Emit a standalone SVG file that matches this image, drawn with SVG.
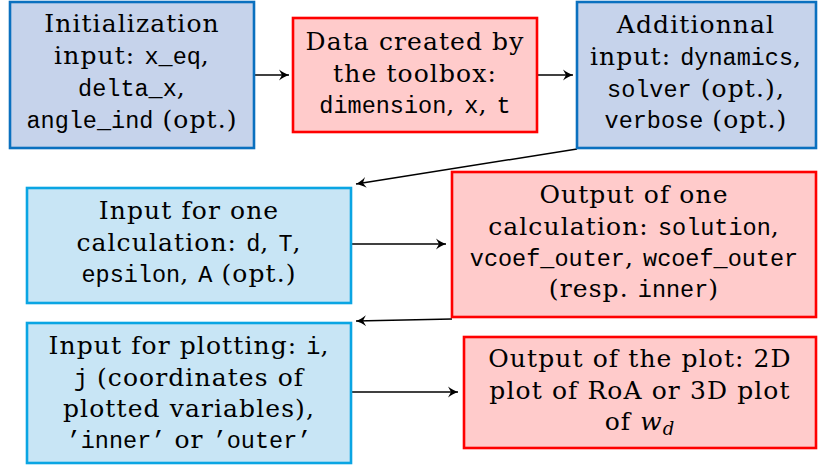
<svg xmlns="http://www.w3.org/2000/svg" width="818" height="466" viewBox="0 0 818 466">
<style>
.blue{fill:#c6d3eb;stroke:#0a70bf;stroke-width:2.6}
.cyan{fill:#c8e5f5;stroke:#0aa5e3;stroke-width:2.6}
.red{fill:#ffcbcb;stroke:#ff0000;stroke-width:2.6}
.t{font-family:"DejaVu Serif",serif;font-size:25px;letter-spacing:1.1px;text-anchor:middle;fill:#000}
.m{font-family:"Liberation Mono","DejaVu Sans Mono",monospace;font-size:23.5px;letter-spacing:0}
.c{fill:none;stroke:#000;stroke-width:1.5}
</style>
<defs>
<marker id="ah" markerUnits="userSpaceOnUse" markerWidth="14" markerHeight="14" viewBox="-12 -7 14 14" refX="0" refY="0" orient="auto">
<path d="M0,0 C-3,-1 -7,-3 -10,-5.5 L-7,0 L-10,5.5 C-7,3 -3,1 0,0 Z" fill="#000"/>
</marker>
</defs>
<g id="connectors">
<line class="c" x1="254" y1="75" x2="289" y2="75" marker-end="url(#ah)"/>
<line class="c" x1="538" y1="75" x2="573" y2="75" marker-end="url(#ah)"/>
<line class="c" x1="577" y1="149" x2="356" y2="184" marker-end="url(#ah)"/>
<line class="c" x1="351" y1="244" x2="446" y2="244" marker-end="url(#ah)"/>
<line class="c" x1="452" y1="319" x2="356" y2="321" marker-end="url(#ah)"/>
<line class="c" x1="351" y1="392" x2="458" y2="392" marker-end="url(#ah)"/>
</g>
<g id="init">
<rect class="blue" x="10" y="2" width="244" height="146"/>
<text class="t" x="132" y="32">Initialization</text>
<text class="t" x="132" y="64">input: <tspan class="m">x_eq</tspan>,</text>
<text class="t" x="132" y="96"><tspan class="m">delta_x</tspan>,</text>
<text class="t" x="132" y="128"><tspan class="m">angle_ind</tspan> (opt.)</text>
</g>
<g id="data">
<rect class="red" x="293" y="18" width="244" height="114"/>
<text class="t" x="415" y="50">Data created by</text>
<text class="t" x="415" y="82">the toolbox:</text>
<text class="t" x="415" y="113"><tspan class="m">dimension</tspan>, <tspan class="m">x</tspan>, <tspan class="m">t</tspan></text>
</g>
<g id="additional">
<rect class="blue" x="577" y="2" width="239" height="146"/>
<text class="t" x="696" y="33">Additionnal</text>
<text class="t" x="696" y="64.5">input: <tspan class="m">dynamics</tspan>,</text>
<text class="t" x="696" y="96.5"><tspan class="m">solver</tspan> (opt.),</text>
<text class="t" x="696" y="128"><tspan class="m">verbose</tspan> (opt.)</text>
</g>
<g id="calcinput">
<rect class="cyan" x="27" y="188" width="324" height="115"/>
<text class="t" x="189" y="219">Input for one</text>
<text class="t" x="189" y="251">calculation: <tspan class="m">d</tspan>, <tspan class="m">T</tspan>,</text>
<text class="t" x="189" y="282"><tspan class="m">epsilon</tspan>, <tspan class="m">A</tspan> (opt.)</text>
</g>
<g id="calcoutput">
<rect class="red" x="452" y="172" width="364" height="145"/>
<text class="t" x="634" y="203">Output of one</text>
<text class="t" x="634" y="234.5">calculation: <tspan class="m">solution</tspan>,</text>
<text class="t" x="634" y="266"><tspan class="m">vcoef_outer</tspan>, <tspan class="m">wcoef_outer</tspan></text>
<text class="t" x="634" y="297">(resp. <tspan class="m">inner</tspan>)</text>
</g>
<g id="plotinput">
<rect class="cyan" x="27" y="323" width="324" height="140"/>
<text class="t" x="189" y="354">Input for plotting: <tspan class="m">i</tspan>,</text>
<text class="t" x="189" y="385.5"><tspan class="m">j</tspan> (coordinates of</text>
<text class="t" x="189" y="417">plotted variables),</text>
<text class="t" x="189" y="448"><tspan class="m">’inner’</tspan> or <tspan class="m">’outer’</tspan></text>
</g>
<g id="plotoutput">
<rect class="red" x="464" y="337" width="352" height="111"/>
<text class="t" x="640" y="367">Output of the plot: 2D</text>
<text class="t" x="640" y="399">plot of RoA or 3D plot</text>
<text class="t" x="640" y="430">of <tspan font-style="italic">w</tspan><tspan font-style="italic" font-size="18" dy="5">d</tspan></text>
</g>
</svg>
